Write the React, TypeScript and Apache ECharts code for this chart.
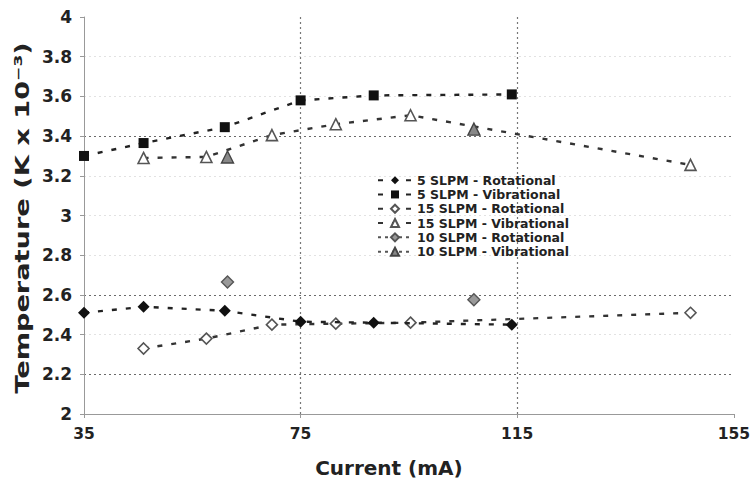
import React, { useEffect, useRef } from "react";
import * as echarts from "echarts";

// Current (mA) positions for each flow rate
const current5 = [35, 46, 61, 75, 88.5, 114];
const current15 = [46, 57.6, 69.7, 81.5, 95.3, 147];
const current10 = [61.5, 107];

// Temperatures (K x 10^-3)
const rot5 = [2.51, 2.54, 2.52, 2.465, 2.46, 2.45];
const vib5 = [3.3, 3.365, 3.445, 3.58, 3.605, 3.61];
const rot15 = [2.33, 2.38, 2.45, 2.455, 2.46, 2.51];
const vib15 = [3.29, 3.295, 3.405, 3.46, 3.505, 3.255];
const rot10 = [2.665, 2.575];
const vib10 = [3.295, 3.435];

const seriesNames = [
  "5 SLPM - Rotational",
  "5 SLPM - Vibrational",
  "15 SLPM - Rotational",
  "15 SLPM - Vibrational",
  "10 SLPM - Rotational",
  "10 SLPM - Vibrational",
];

const yTitle = "Temperature (K x 10⁻³)";
const xTitle = "Current (mA)";

const FONT = '"DejaVu Sans", Verdana, sans-serif';

const pairs = (xs: number[], ys: number[]) => xs.map((x, i) => [x, ys[i]]);

// y split lines from 2.0 to 4.0: only 2.2, 2.6 and 3.4 are strong
const ySplitColors = [
  "rgba(0,0,0,0)", "#6a6a6a", "#e2e2e2", "#6a6a6a", "#e2e2e2", "#e2e2e2",
  "#e2e2e2", "#6a6a6a", "#e2e2e2", "#e2e2e2", "rgba(0,0,0,0)",
];
const xSplitColors = ["rgba(0,0,0,0)", "#777", "#777", "rgba(0,0,0,0)"];

const dashed = (color: string) => ({
  color,
  width: 2.4,
  type: [5, 9] as number[],
});

export default function App() {
  const ref = useRef<HTMLDivElement>(null);

  useEffect(() => {
    if (!ref.current) return;
    const chart = echarts.init(ref.current, null, { renderer: "svg" });

    const option: any = {
      animation: false,
      backgroundColor: "#fff",
      grid: { left: 84, right: 18, top: 17, bottom: 74, containLabel: false },
      xAxis: {
        type: "value",
        min: 35,
        max: 155,
        interval: 40,
        name: xTitle,
        nameLocation: "middle",
        nameGap: 44,
        nameTextStyle: {
          fontFamily: FONT,
          fontWeight: "bold",
          fontSize: 20,
          color: "#222",
          padding: [0, 40, 0, 0],
        },
        axisLine: { lineStyle: { color: "#999", width: 1 } },
        axisTick: { length: 4, lineStyle: { color: "#999" } },
        axisLabel: {
          fontFamily: FONT,
          fontWeight: "bold",
          fontSize: 15.5,
          color: "#222",
          margin: 12,
        },
        splitLine: {
          show: true,
          lineStyle: { color: xSplitColors, type: [2, 3], width: 1.2 },
        },
      },
      yAxis: {
        type: "value",
        min: 2,
        max: 4,
        interval: 0.2,
        axisLine: { show: true, lineStyle: { color: "#999", width: 1 } },
        axisTick: { show: true, length: 4, lineStyle: { color: "#999" } },
        axisLabel: {
          fontFamily: FONT,
          fontWeight: "bold",
          fontSize: 17,
          color: "#222",
          margin: 12,
          formatter: (v: number) => String(Math.round(v * 10) / 10),
        },
        splitLine: {
          show: true,
          lineStyle: { color: ySplitColors, type: [2, 3], width: 1.2 },
        },
      },
      legend: {
        orient: "vertical",
        left: 372,
        top: 168,
        itemWidth: 34,
        itemHeight: 10,
        itemGap: 0,
        textStyle: {
          fontFamily: FONT,
          fontWeight: "bold",
          fontSize: 12.5,
          lineHeight: 14.3,
          color: "#222",
        },
        data: [
          { name: seriesNames[0] },
          { name: seriesNames[1] },
          { name: seriesNames[2] },
          { name: seriesNames[3] },
          {
            name: seriesNames[4],
            lineStyle: { opacity: 1, color: "#555", width: 2, type: [3, 4] },
          },
          {
            name: seriesNames[5],
            lineStyle: { opacity: 1, color: "#555", width: 2, type: [3, 4] },
          },
        ],
      },
      graphic: [
        {
          type: "text",
          x: 22,
          y: 218,
          rotation: Math.PI / 2,
          scaleX: 1.36,
          style: {
            text: yTitle,
            font: `bold 20px ${FONT}`,
            fill: "#222",
            align: "center",
            verticalAlign: "middle",
          },
        },
      ],
      series: [
        {
          name: seriesNames[0],
          type: "line",
          data: pairs(current5, rot5),
          symbol: "diamond",
          symbolSize: 12,
          itemStyle: { color: "#111" },
          lineStyle: dashed("#222"),
          z: 4,
        },
        {
          name: seriesNames[1],
          type: "line",
          data: pairs(current5, vib5),
          symbol: "rect",
          symbolSize: 10,
          itemStyle: { color: "#111" },
          lineStyle: dashed("#222"),
          z: 4,
        },
        {
          name: seriesNames[2],
          type: "line",
          data: pairs(current15, rot15),
          symbol: "diamond",
          symbolSize: 11,
          itemStyle: { color: "#fff", borderColor: "#555", borderWidth: 1.6 },
          lineStyle: dashed("#333"),
          z: 3,
        },
        {
          name: seriesNames[3],
          type: "line",
          data: pairs(current15, vib15),
          symbol: "triangle",
          symbolSize: 11,
          itemStyle: { color: "#fff", borderColor: "#555", borderWidth: 1.6 },
          lineStyle: dashed("#333"),
          z: 3,
        },
        {
          name: seriesNames[4],
          type: "line",
          data: pairs(current10, rot10),
          symbol: "diamond",
          symbolSize: 12,
          itemStyle: { color: "#999", borderColor: "#555", borderWidth: 1.4 },
          lineStyle: { opacity: 0 },
          z: 5,
        },
        {
          name: seriesNames[5],
          type: "line",
          data: pairs(current10, vib10),
          symbol: "triangle",
          symbolSize: 12,
          itemStyle: { color: "#888", borderColor: "#444", borderWidth: 1.4 },
          lineStyle: { opacity: 0 },
          z: 5,
        },
      ],
    };

    chart.setOption(option);
    return () => chart.dispose();
  }, []);

  return (
    <div
      ref={ref}
      style={{ position: "absolute", left: 0, top: 0, width: 753, height: 488 }}
    />
  );
}
